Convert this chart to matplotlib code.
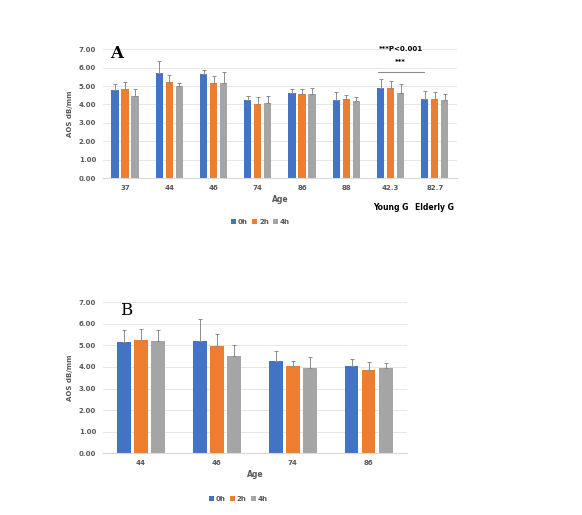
import numpy as np
import matplotlib.pyplot as plt

# panel A data
ages_a = ['37', '44', '46', '74', '86', '88', '42.3', '82.7']
a_0h = [4.78, 5.70, 5.65, 4.22, 4.62, 4.25, 4.90, 4.28]
a_2h = [4.83, 5.20, 5.15, 4.02, 4.58, 4.32, 4.88, 4.32]
a_4h = [4.45, 4.98, 5.18, 4.10, 4.58, 4.18, 4.62, 4.25]
a_0h_err = [0.32, 0.68, 0.23, 0.23, 0.20, 0.40, 0.50, 0.44]
a_2h_err = [0.37, 0.38, 0.37, 0.36, 0.27, 0.18, 0.37, 0.38]
a_4h_err = [0.40, 0.20, 0.57, 0.35, 0.32, 0.20, 0.50, 0.33]

# panel B data
ages_b = ['44', '46', '74', '86']
b_0h = [5.18, 5.22, 4.30, 4.06]
b_2h = [5.24, 4.99, 4.03, 3.85]
b_4h = [5.22, 4.51, 3.96, 3.97]
b_0h_err = [0.52, 1.01, 0.45, 0.31]
b_2h_err = [0.51, 0.56, 0.27, 0.40]
b_4h_err = [0.50, 0.51, 0.51, 0.20]

colors = ['#4472C4', '#ED7D31', '#A5A5A5']
labels = ['0h', '2h', '4h']
txt = '#595959'

fig = plt.figure(figsize=(5.82, 5.15), dpi=100)
axA = fig.add_axes([0.177, 0.654, 0.608, 0.2505])
axB = fig.add_axes([0.177, 0.120, 0.522, 0.293])


def draw(ax, cats, vals, errs, width, step):
    x = np.arange(len(cats))
    for k in range(3):
        pos = x + (k - 1) * step
        ax.bar(pos, vals[k], width, color=colors[k], label=labels[k], zorder=2)
        ax.errorbar(pos, vals[k], yerr=[np.zeros(len(cats)), errs[k]], fmt='none',
                    ecolor='#8c8c8c', elinewidth=0.7, capsize=1.5, capthick=0.7, zorder=3)
    ax.set_xlim(-0.5, len(cats) - 0.5)
    ax.set_ylim(0, 7)
    ax.set_yticks(np.arange(0, 7.01, 1))
    ax.set_yticklabels(['%.2f' % v for v in np.arange(0, 7.01, 1)])
    ax.set_xticks(x)
    ax.set_xticklabels(cats)
    ax.grid(axis='y', color='#e6e6e6', linewidth=0.7, zorder=0)
    for s in ['top', 'right', 'left']:
        ax.spines[s].set_visible(False)
    ax.spines['bottom'].set_color('#d9d9d9')
    ax.tick_params(length=0, labelsize=5, labelcolor=txt, pad=5)
    for t in ax.get_xticklabels() + ax.get_yticklabels():
        t.set_fontweight('bold')
    ax.set_xlabel('Age', fontsize=5.5, color=txt, fontweight='bold', labelpad=3)
    ax.set_ylabel('AOS dB/mm', fontsize=5, color=txt, fontweight='bold', labelpad=4)


draw(axA, ages_a, [a_0h, a_2h, a_4h], [a_0h_err, a_2h_err, a_4h_err], 0.165, 0.226)
draw(axB, ages_b, [b_0h, b_2h, b_4h], [b_0h_err, b_2h_err, b_4h_err], 0.175, 0.224)

axA.text(-0.33, 6.5, 'A', fontsize=12, fontweight='bold', family='DejaVu Serif')
axB.text(-0.27, 6.4, 'B', fontsize=12, family='DejaVu Serif')

# significance marks
axA.plot([5.71, 6.75], [5.75, 5.75], color='#8c8c8c', linewidth=0.8, zorder=3)
axA.text(6.23, 6.15, '***', ha='center', va='bottom', fontsize=5, fontweight='bold')
axA.text(6.23, 6.82, '***P<0.001', ha='center', va='bottom', fontsize=5, fontweight='bold')
axA.text(6, -1.35, 'Young G', ha='center', va='top', fontsize=5.5, fontweight='bold')
axA.text(7, -1.35, 'Elderly G', ha='center', va='top', fontsize=5.5, fontweight='bold')

for ax, y in [(axA, -0.265), (axB, -0.24)]:
    lg = ax.legend(loc='upper center', bbox_to_anchor=(0.445, y),
                   ncol=3, frameon=False, fontsize=5, handlelength=0.7, handleheight=0.7,
                   handletextpad=0.3, columnspacing=0.6)
    for t in lg.get_texts():
        t.set_color(txt)
        t.set_fontweight('bold')

fig.savefig('out.png', dpi=100)
